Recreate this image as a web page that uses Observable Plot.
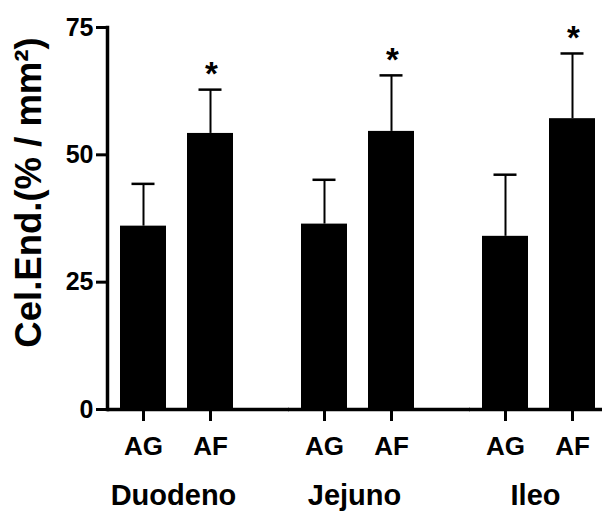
<!DOCTYPE html>
<html>
<head>
<meta charset="utf-8">
<script src="https://cdn.jsdelivr.net/npm/d3@7"></script>
<script src="https://cdn.jsdelivr.net/npm/@observablehq/plot@0.6"></script>
<style>
  html, body { margin: 0; padding: 0; background: #fff; }
</style>
</head>
<body>
<div id="chart"></div>
<script>
// ---- data ----
const segments = ["Duodeno", "Jejuno", "Ileo"];
const groups = ["AG", "AF"];
const meanAG = [36.0, 36.4, 34.0];
const meanAF = [54.2, 54.6, 57.1];
const sdAG = [8.3, 8.7, 12.1];
const sdAF = [8.6, 11.0, 12.8];
const starAG = [false, false, false];
const starAF = [true, true, true];
const yTicks = [0, 25, 50, 75];
const yLabel = "Cel.End.(% / mm²)";

const rows = [];
segments.forEach((s, i) => {
  rows.push({segment: s, group: "AG", mean: meanAG[i], sd: sdAG[i], star: starAG[i]});
  rows.push({segment: s, group: "AF", mean: meanAF[i], sd: sdAF[i], star: starAF[i]});
});
const errTop = d => d.mean + d.sd;

const chart = Plot.plot({
  width: 602,
  height: 511,
  marginTop: 27,
  marginRight: 0,
  marginBottom: 102,
  marginLeft: 107,
  style: {fontFamily: "'Liberation Sans', Arial, sans-serif", background: "white", color: "black"},
  fx: {domain: segments, paddingInner: 0.273, paddingOuter: 0, align: 0, label: null},
  x: {domain: groups, paddingInner: 0.312, paddingOuter: 0.127, align: 0.675, label: null},
  y: {domain: [0, 75], label: null},
  marks: [
    Plot.barY(rows, {fx: "segment", x: "group", y: "mean", fill: "black"}),
    Plot.ruleX(rows, {fx: "segment", x: "group", y1: "mean", y2: errTop, stroke: "black", strokeWidth: 2}),
    Plot.tickY(rows, {fx: "segment", x: "group", y: errTop, stroke: "black", strokeWidth: 2.5, insetLeft: 11.5, insetRight: 11.5}),
    Plot.text(rows.filter(d => d.star), {fx: "segment", x: "group", y: errTop, text: () => "*", dy: -15, dx: 1, fontSize: 33, fontWeight: "bold"}),
    Plot.axisY({ticks: yTicks, tickSize: 11, tickPadding: 3, fontSize: 25, fontWeight: "bold", strokeWidth: 3, label: null}),
    Plot.axisX({tickSize: 12, tickPadding: 15, fontSize: 26, fontWeight: "bold", strokeWidth: 3, label: null}),
    Plot.axisFx({anchor: "bottom", tickSize: 0, tickPadding: 75, fontSize: 29, fontWeight: "bold", label: null}),
    Plot.frame({anchor: "left", facetAnchor: "left", stroke: "black", strokeWidth: 3.5}),
    Plot.ruleY([0], {stroke: "black", strokeWidth: 3.5, insetRight: -50}),
    Plot.text([yLabel], {frameAnchor: "left", facetAnchor: "left", textAnchor: "middle", rotate: -90, fontSize: 36.5, fontWeight: "bold", dx: -78, dy: -26})
  ]
});
document.getElementById("chart").appendChild(chart);
</script>
</body>
</html>
